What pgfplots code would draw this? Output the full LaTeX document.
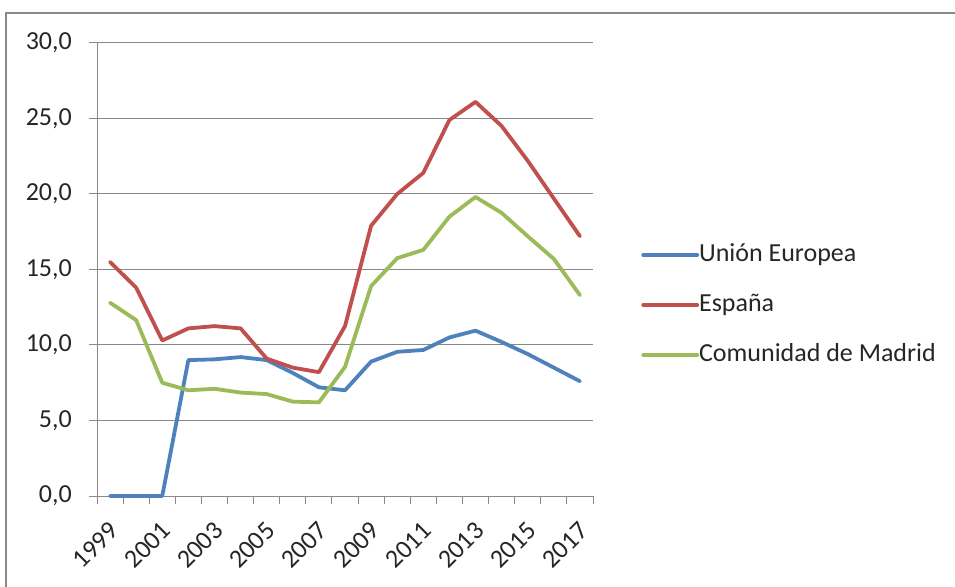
\documentclass[border=0pt]{standalone}
\usepackage{pgfplots}
\pgfplotsset{compat=1.18}
\usepackage{fontspec}
\setmainfont{Carlito}
\definecolor{colUE}{HTML}{4F81BD}
\definecolor{colES}{HTML}{C0504D}
\definecolor{colCM}{HTML}{9BBB59}
\definecolor{axgray}{HTML}{888888}
\definecolor{framegray}{HTML}{8A8A8A}

\begin{document}
\begin{tikzpicture}[x=1pt,y=1pt]
\path[use as bounding box] (0,0) rectangle (955,586);
\draw[framegray, line width=2.5pt] (6,-2) -- (6,573) -- (957,573);
\begin{axis}[
  at={(97pt,90pt)}, anchor=south west,
  scale only axis, width=496pt, height=453pt,
  xmin=-0.5, xmax=18.5, ymin=0, ymax=30,
  axis lines=left, axis line style={axgray, line width=1pt, -},
  xtick={0,2,...,18},
  xticklabels={1999,2001,2003,2005,2007,2009,2011,2013,2015,2017},
  major x tick style={draw=none},
  minor xtick={-0.5,0.5,...,18.5},
  minor tick length=8pt,
  x tick style={axgray, line width=1pt},
  ytick={0,5,...,30},
  y tick style={axgray, line width=1pt},
  major tick length=8pt,
  tick align=outside,
  ymajorgrids, grid style={axgray, line width=1pt},
  /pgf/number format/assume math mode=true,
  yticklabel={\pgfmathprintnumber[fixed,fixed zerofill,precision=1,use comma]{\tick}},
  tick label style={font=\fontsize{26}{28}\selectfont, color=black!85},
  xticklabel style={xshift=-2pt, yshift=-15pt, rotate=45, anchor=north east, inner sep=1pt},
  yticklabel style={inner sep=0pt, xshift=-17pt},
  legend style={at={(1.097,0.4215)}, anchor=west, draw=none, fill=none,
    font=\fontsize{26}{28}\selectfont, row sep=26pt, inner sep=0pt,
    nodes={inner sep=0pt, anchor=west, text height=18pt, text depth=6pt, text=black!85}},
  legend cell align=left,
  legend image code/.code={\draw[#1] (0pt,0pt) -- (54pt,0pt);},
  /tikz/every even column/.append style={column sep=5pt},
  every axis plot/.append style={line width=3.8pt, line cap=round, line join=round, mark=none},
  clip=false,
]
\addplot[colUE] coordinates {(0,0) (1,0) (2,0) (3,9.0) (4,9.05) (5,9.2) (6,9.0) (7,8.15) (8,7.2) (9,7.0)
  (10,8.9) (11,9.55) (12,9.67) (13,10.5) (14,10.95) (15,10.2) (16,9.4) (17,8.5) (18,7.6)};
\addlegendentry{Unión Europea}
\addplot[colES] coordinates {(0,15.5) (1,13.8) (2,10.3) (3,11.1) (4,11.25) (5,11.1) (6,9.1) (7,8.5) (8,8.2) (9,11.25)
  (10,17.9) (11,20.0) (12,21.4) (13,24.9) (14,26.1) (15,24.5) (16,22.2) (17,19.7) (18,17.2)};
\addlegendentry{España}
\addplot[colCM] coordinates {(0,12.8) (1,11.65) (2,7.5) (3,7.0) (4,7.1) (5,6.85) (6,6.75) (7,6.25) (8,6.2) (9,8.55)
  (10,13.9) (11,15.75) (12,16.3) (13,18.5) (14,19.8) (15,18.75) (16,17.2) (17,15.7) (18,13.3)};
\addlegendentry{Comunidad de Madrid}
\end{axis}
\end{tikzpicture}
\end{document}
